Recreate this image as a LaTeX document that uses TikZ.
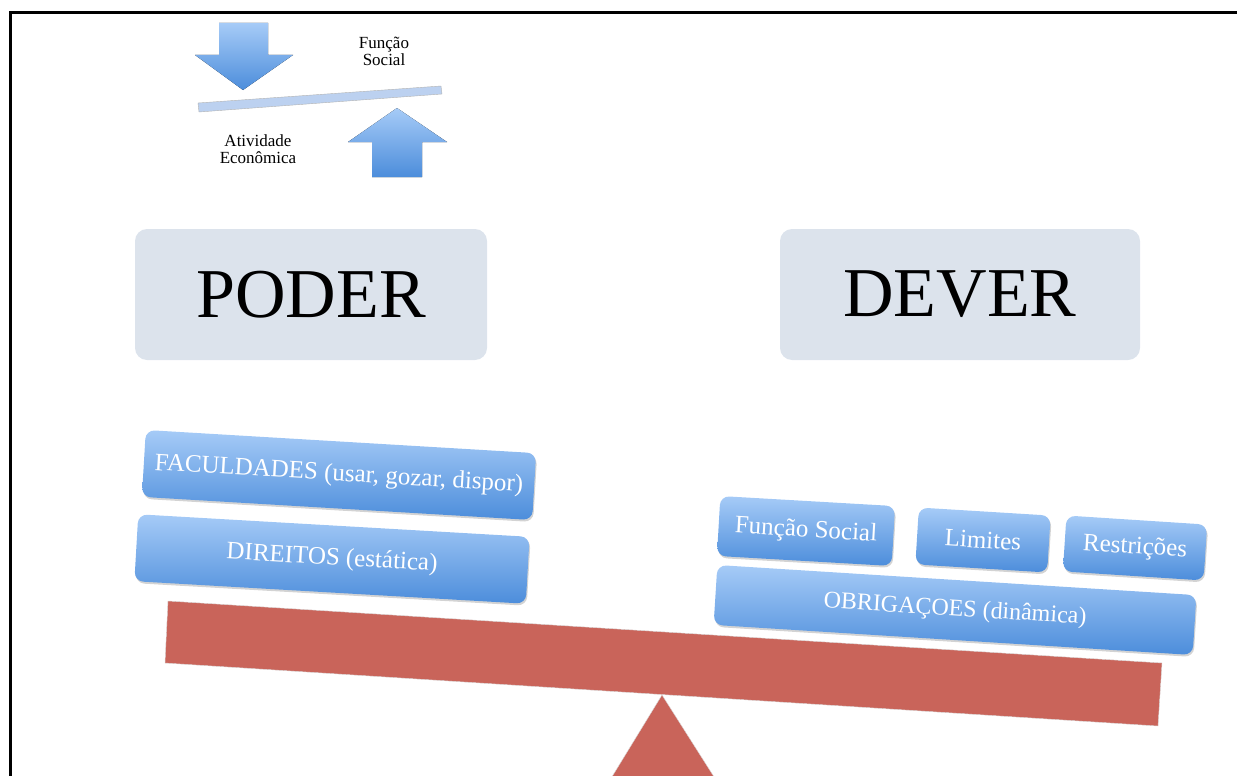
\documentclass[tikz,border=0pt]{standalone}
\usepackage{fontspec}
\setmainfont{Liberation Serif}
\usetikzlibrary{shadows}
\definecolor{boxgray}{HTML}{DCE3EC}
\definecolor{bluetop}{HTML}{A6CBF7}
\definecolor{bluebot}{HTML}{4C8DDB}
\definecolor{beamred}{HTML}{C9645A}
\definecolor{barblue}{HTML}{BCD1F0}
\tikzset{
  bigbox/.style={draw=none, fill=boxgray, rounded corners=12pt, minimum width=352pt, minimum height=131pt, inner sep=0pt, font=\fontsize{70}{80}\selectfont},
  bluebox/.style={draw=none, top color=bluetop, bottom color=bluebot, rounded corners=9pt, text=white, inner sep=0pt, drop shadow={opacity=0.35, shadow xshift=1pt, shadow yshift=-2pt}},
  smalltxt/.style={font=\fontsize{17}{17}\selectfont, align=center, inner sep=0pt},
  arrowshade/.style={top color=bluetop, bottom color=bluebot, draw=none}
}
\begin{document}
\begin{tikzpicture}[x=1pt,y=-1pt]
\useasboundingbox (0,0) rectangle (1237,776);
% frame
\draw[line width=3pt] (10,776) -- (10,13) -- (1237,13);
% top small diagram
\fill[arrowshade] (219,23) -- (268,23) -- (268,55) -- (293,55) -- (243,90) -- (195,55) -- (219,55) -- cycle;
\fill[arrowshade] (397,108) -- (447,142) -- (422,142) -- (422,177) -- (372,177) -- (372,142) -- (348,142) -- cycle;
\draw[draw=gray!60, fill=barblue] (198,103) -- (441,86) -- (442,94) -- (199,112) -- cycle;
\node[smalltxt] (fs) at (384,51) {Função\\Social};
\node[smalltxt] (ae) at (258,149) {Atividade\\Econômica};
% big boxes
\node[bigbox] (poder) at (311,294.5) {PODER};
\node[bigbox, minimum width=360pt] (dever) at (960,294.5) {DEVER};
% fulcrum and beam
\fill[beamred, draw=gray!30] (662,695) -- (716,780) -- (610,780) -- cycle;
\fill[beamred, draw=gray!30] (168,601) -- (1162,663) -- (1158,726) -- (165,663) -- cycle;
% left boxes
\node[bluebox, minimum width=391pt, minimum height=67pt, rotate=-3.4, font=\fontsize{25}{28}\selectfont] (fac) at (339,475) {FACULDADES (usar, gozar, dispor)};
\node[bluebox, minimum width=392pt, minimum height=67pt, rotate=-3.3, font=\fontsize{25}{28}\selectfont] (dir) at (332,559) {DIREITOS (estática)};
% right boxes
\node[bluebox, minimum width=175pt, minimum height=60pt, rotate=-3.3, font=\fontsize{25}{28}\selectfont] (fsoc) at (806,531) {Função Social};
\node[bluebox, minimum width=132pt, minimum height=57pt, rotate=-3.5, font=\fontsize{25}{28}\selectfont] (lim) at (983,540) {Limites};
\node[bluebox, minimum width=141pt, minimum height=56pt, rotate=-3.7, font=\fontsize{25}{28}\selectfont] (res) at (1135,548) {Restrições};
\node[bluebox, minimum width=480pt, minimum height=60pt, rotate=-3.6, font=\fontsize{24}{27}\selectfont] (obr) at (955,610) {OBRIGAÇOES (dinâmica)};
\end{tikzpicture}
\end{document}
